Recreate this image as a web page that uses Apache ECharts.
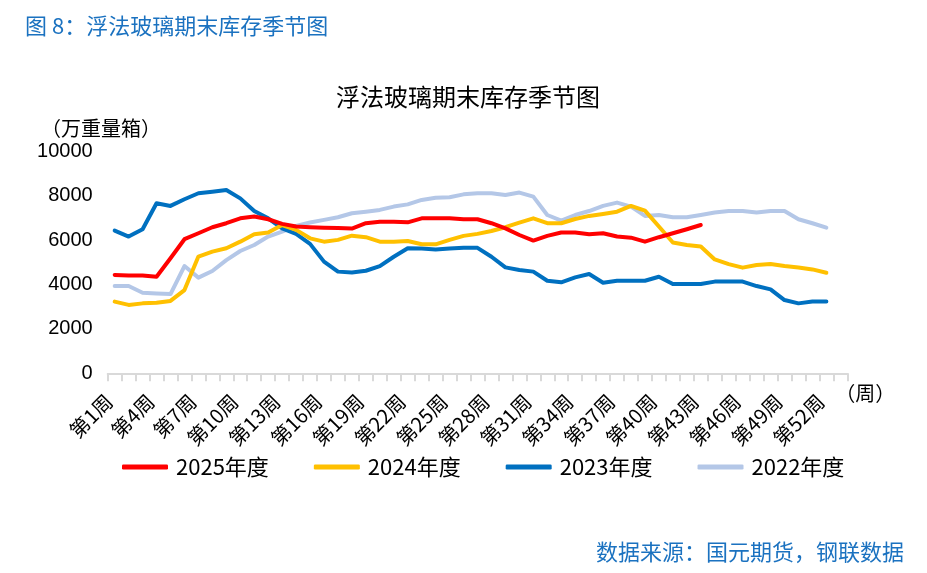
<!DOCTYPE html>
<html>
<head>
<meta charset="utf-8">
<script src="https://cdn.jsdelivr.net/npm/echarts@6/dist/echarts.min.js"></script>
<style>html,body{margin:0;padding:0;background:#fff;}#c{width:927px;height:573px;}</style>
</head>
<body>
<div id="c"></div>
<script>
var categories = ['第1周','第2周','第3周','第4周','第5周','第6周','第7周','第8周','第9周','第10周',
'第11周','第12周','第13周','第14周','第15周','第16周','第17周','第18周','第19周','第20周',
'第21周','第22周','第23周','第24周','第25周','第26周','第27周','第28周','第29周','第30周',
'第31周','第32周','第33周','第34周','第35周','第36周','第37周','第38周','第39周','第40周',
'第41周','第42周','第43周','第44周','第45周','第46周','第47周','第48周','第49周','第50周',
'第51周','第52周','第53周'];
var seriesNames = ['2025年度','2024年度','2023年度','2022年度'];
var yTicks = [0, 2000, 4000, 6000, 8000, 10000];
var d2025 = [4430,4400,4410,4350,5180,6040,6310,6580,6760,6980,
7060,6940,6730,6610,6580,6560,6550,6520,6760,6830,
6830,6800,6980,6980,6980,6940,6940,6760,6530,6230,
5980,6190,6340,6340,6260,6310,6160,6110,5930,6130,
6310,6490,6680];
var d2024 = [3230,3080,3150,3180,3260,3750,5260,5480,5630,5930,
6260,6340,6680,6460,6080,5930,6010,6200,6130,5930,
5930,5960,5810,5810,6010,6190,6280,6410,6580,6790,
6980,6760,6760,6950,7090,7180,7280,7540,7330,6610,
5890,5780,5710,5130,4920,4760,4880,4920,4830,4770,
4680,4530];
var d2023 = [6430,6160,6490,7660,7540,7840,8110,8180,8260,7880,
7310,6980,6530,6280,5830,5030,4580,4540,4620,4830,
5250,5630,5620,5580,5620,5660,5650,5250,4770,4650,
4580,4170,4100,4320,4470,4080,4170,4170,4170,4350,
4020,4020,4020,4130,4130,4130,3930,3780,3300,3150,
3230,3230];
var d2022 = [3930,3930,3630,3600,3570,4830,4310,4610,5100,5510,
5780,6160,6380,6640,6790,6910,7030,7210,7280,7360,
7510,7610,7810,7910,7930,8060,8110,8110,8030,8140,
7960,7130,6880,7130,7310,7540,7690,7510,7090,7130,
7030,7030,7130,7240,7310,7310,7240,7310,7310,6940,
6760,6560];

var FONT = '"Liberation Sans", "Noto Sans CJK SC", sans-serif';
var CJK = '"Noto Sans CJK SC", sans-serif';
var BLUE_TXT = '#1B72C0';
var colors = {'2025年度':'#FF0000','2024年度':'#FFC000','2023年度':'#0070C0','2022年度':'#B4C7E7'};
var dataMap = {'2025年度':d2025,'2024年度':d2024,'2023年度':d2023,'2022年度':d2022};

var chart = echarts.init(document.getElementById('c'));
var drawOrder = ['2022年度','2023年度','2024年度','2025年度'];
var series = drawOrder.map(function(n){
  return {
    name: n, type: 'line', data: dataMap[n], symbol: 'none', smooth: false,
    lineStyle: {width: 4, color: colors[n], cap: 'round', join: 'round'},
    itemStyle: {color: colors[n]}
  };
});

chart.setOption({
  animation: false,
  textStyle: {fontFamily: FONT},
  title: [
    {text: '图 8：浮法玻璃期末库存季节图', left: 20, top: 10,
     textStyle: {fontSize: 22, fontWeight: 'normal', color: BLUE_TXT, fontFamily: CJK}},
    {text: '浮法玻璃期末库存季节图', left: 463, top: 80, textAlign: 'center',
     textStyle: {fontSize: 24, fontWeight: 'normal', color: '#000', fontFamily: CJK}},
    {text: '（万重量箱）', left: 36, top: 113,
     textStyle: {fontSize: 20, fontWeight: 'normal', color: '#000', fontFamily: CJK}},
    {text: '数据来源：国元期货，钢联数据', right: 18, top: 536,
     textStyle: {fontSize: 22, fontWeight: 'normal', color: BLUE_TXT, fontFamily: CJK}}
  ],
  legend: {
    data: seriesNames, left: 117, top: 451, icon: 'roundRect',
    itemWidth: 46, itemHeight: 5, itemGap: 45,
    textStyle: {fontSize: 22, color: '#000', fontFamily: CJK, padding: [0, 0, 0, 3]}
  },
  grid: {left: 107.7, right: 79.7, top: 151.3, bottom: 199.7, containLabel: false},
  xAxis: {
    type: 'category', data: categories, boundaryGap: true,
    name: '（周）', nameLocation: 'end', nameGap: 0,
    nameTextStyle: {fontSize: 20, color: '#000', fontFamily: CJK, align: 'left', verticalAlign: 'top', padding: [10, 0, 0, -12]},
    axisLine: {show: true, lineStyle: {color: '#D9D9D9', width: 2}},
    axisTick: {show: true, interval: 0, length: 8, lineStyle: {color: '#D9D9D9', width: 2}},
    axisLabel: {interval: 2, rotate: 45, fontSize: 20, color: '#000', fontFamily: CJK,
                margin: 19, padding: [0, 8, 0, 0]},
    splitLine: {show: false}
  },
  yAxis: {
    type: 'value', min: yTicks[0], max: yTicks[yTicks.length-1], interval: 2000,
    axisLine: {show: false}, axisTick: {show: false}, splitLine: {show: false},
    axisLabel: {fontSize: 20, color: '#000', margin: 15, fontFamily: FONT,
                formatter: function(v){ return String(v); }}
  },
  series: series
});
</script>
</body>
</html>
